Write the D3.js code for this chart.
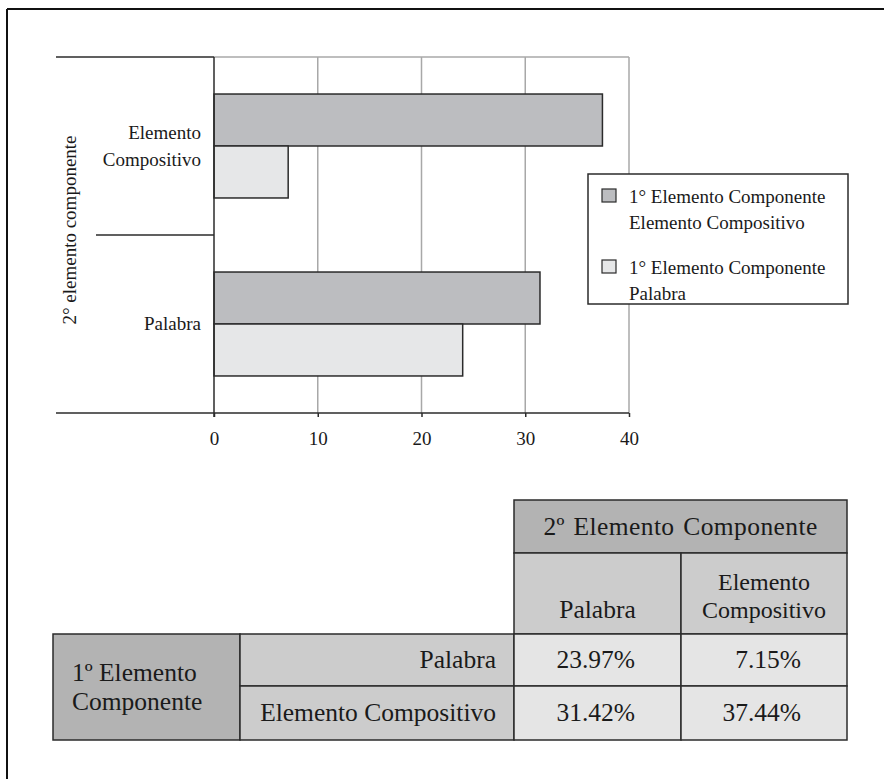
<!DOCTYPE html>
<html>
<head>
<meta charset="utf-8">
<script src="https://cdn.jsdelivr.net/npm/d3@7"></script>
<style>
    body { margin: 0; background: #fff; }
    svg text { font-family: "Liberation Serif", "DejaVu Serif", serif; fill: #1a1a1a; }
</style>
</head>
<body>
<div id="content"></div>
<script>
// 2nd element categories (top to bottom in the chart)
const categories = ['Elemento Compositivo', 'Palabra'];
const categoryLines = [['Elemento', 'Compositivo'], ['Palabra']];
// 1st element = Elemento Compositivo, by category
const compositivoValues = [37.44, 31.42];
// 1st element = Palabra, by category
const palabraValues = [7.15, 23.97];
const seriesNames = [
    ['1° Elemento Componente', 'Elemento Compositivo'],
    ['1° Elemento Componente', 'Palabra']
];
const xTicks = [0, 10, 20, 30, 40];
const yTitle = '2° elemento componente';

// table texts
const tableHeader = '2º Elemento Componente';
const tableCols = [['Palabra'], ['Elemento', 'Compositivo']];
const tableRowTitle = ['1º Elemento', 'Componente'];
const tableRows = ['Palabra', 'Elemento Compositivo'];

const config = {
    darkFill: '#bcbdc0',
    lightFill: '#e6e7e8',
    stroke: '#2b2b2b',
    grid: '#a8a8a8'
};

const svg = d3.select('#content').append('svg')
    .attr('width', 884)
    .attr('height', 779);

// frame (only top and left edges are visible)
svg.append('line').attr('x1', 7).attr('x2', 884).attr('y1', 9).attr('y2', 9)
    .attr('stroke', '#111').attr('stroke-width', 2);
svg.append('line').attr('x1', 7).attr('x2', 7).attr('y1', 9).attr('y2', 779)
    .attr('stroke', '#111').attr('stroke-width', 2);

const x = d3.scaleLinear().domain([0, 40]).range([214, 629]);
const y = d3.scaleBand().domain(categories).range([57, 413])
    .paddingInner(0.416).paddingOuter(0.208);

// grid
svg.append('g').selectAll('line.grid').data(xTicks.slice(1)).enter().append('line')
    .attr('x1', d => x(d)).attr('x2', d => x(d))
    .attr('y1', 57).attr('y2', 413)
    .attr('stroke', config.grid).attr('stroke-width', 1.5);
svg.append('line').attr('x1', x(0)).attr('x2', x(40)).attr('y1', 57).attr('y2', 57)
    .attr('stroke', config.grid).attr('stroke-width', 1.5);

// category frame lines
svg.append('line').attr('x1', 56).attr('x2', x(0)).attr('y1', 57).attr('y2', 57)
    .attr('stroke', config.stroke).attr('stroke-width', 1.5);
svg.append('line').attr('x1', 96).attr('x2', x(0)).attr('y1', 235).attr('y2', 235)
    .attr('stroke', config.stroke).attr('stroke-width', 1.5);

// bars
const half = y.bandwidth() / 2;
const bars = svg.append('g');
bars.selectAll('rect.dark').data(categories).enter().append('rect')
    .attr('x', x(0))
    .attr('y', d => y(d))
    .attr('width', (d, i) => x(compositivoValues[i]) - x(0))
    .attr('height', half)
    .attr('fill', config.darkFill)
    .attr('stroke', config.stroke).attr('stroke-width', 1.5);
bars.selectAll('rect.light').data(categories).enter().append('rect')
    .attr('x', x(0))
    .attr('y', d => y(d) + half)
    .attr('width', (d, i) => x(palabraValues[i]) - x(0))
    .attr('height', half)
    .attr('fill', config.lightFill)
    .attr('stroke', config.stroke).attr('stroke-width', 1.5);

// x axis
const axis = svg.append('g')
    .attr('transform', 'translate(0,413)')
    .call(d3.axisBottom(x).tickValues(xTicks).tickSize(4).tickPadding(15).tickSizeOuter(0));
axis.select('.domain').remove();
axis.selectAll('.tick line').attr('stroke', config.stroke).attr('stroke-width', 1.5);
axis.selectAll('.tick text')
    .style('font-family', '"Liberation Serif", serif')
    .style('font-size', '19px')
    .attr('fill', '#1a1a1a');
svg.append('line').attr('x1', 56).attr('x2', x(40)).attr('y1', 413).attr('y2', 413)
    .attr('stroke', config.stroke).attr('stroke-width', 1.5);
svg.append('line').attr('x1', x(0)).attr('x2', x(0)).attr('y1', 57).attr('y2', 417)
    .attr('stroke', config.stroke).attr('stroke-width', 1.5);

// category labels
categories.forEach((c, i) => {
    const lines = categoryLines[i];
    const cy = y(c) + y.bandwidth() / 2;
    lines.forEach((t, j) => {
        svg.append('text')
            .attr('x', 201)
            .attr('y', cy + 6 + (j - (lines.length - 1) / 2) * 27)
            .attr('text-anchor', 'end')
            .style('font-size', '19px')
            .text(t);
    });
});

// y title
svg.append('text')
    .attr('transform', 'translate(76,230) rotate(-90)')
    .attr('text-anchor', 'middle')
    .style('font-size', '19px')
    .text(yTitle);

// legend
const legend = svg.append('g');
legend.append('rect')
    .attr('x', 588).attr('y', 174).attr('width', 260).attr('height', 130)
    .attr('fill', '#fff').attr('stroke', config.stroke).attr('stroke-width', 1.5);
[config.darkFill, config.lightFill].forEach((fill, i) => {
    const top = 189 + i * 71;
    legend.append('rect')
        .attr('x', 602).attr('y', top).attr('width', 14).attr('height', 13)
        .attr('fill', fill).attr('stroke', config.stroke).attr('stroke-width', 1.2);
    seriesNames[i].forEach((t, j) => {
        legend.append('text')
            .attr('x', 629).attr('y', top + 14 + j * 26)
            .style('font-size', '19px')
            .text(t);
    });
});

// table
const table = svg.append('g');
const cell = (x0, y0, w, h, fill) => table.append('rect')
    .attr('x', x0).attr('y', y0).attr('width', w).attr('height', h)
    .attr('fill', fill).attr('stroke', config.stroke).attr('stroke-width', 1.5);
const label = (tx, ty, t, anchor) => table.append('text')
    .attr('x', tx).attr('y', ty)
    .attr('text-anchor', anchor)
    .style('font-size', '25.5px')
    .text(t);

const colX = [514, 681, 847];
const rowY = [634, 686, 740];

cell(514, 500, 333, 53, '#b3b3b3');
label(680.5, 535, tableHeader, 'middle').style('letter-spacing', '0.4px').style('word-spacing', '2px');

tableCols.forEach((lines, i) => {
    cell(colX[i], 553, colX[i + 1] - colX[i], 81, '#cccccc');
    const cx = (colX[i] + colX[i + 1]) / 2;
    lines.forEach((t, j) => {
        label(cx, 618 - (lines.length - 1 - j) * 28, t, 'middle')
            .style('font-size', lines.length > 1 ? '24px' : '25.5px');
    });
});

cell(53, 634, 187, 106, '#b3b3b3');
tableRowTitle.forEach((t, j) => label(72, 681 + j * 29, t, 'start'));

const tableValues = [
    [palabraValues[1], palabraValues[0]],
    [compositivoValues[1], compositivoValues[0]]
];
tableRows.forEach((r, i) => {
    cell(240, rowY[i], 274, rowY[i + 1] - rowY[i], '#cccccc');
    label(496, (rowY[i] + rowY[i + 1]) / 2 + 8, r, 'end');
    tableValues[i].forEach((v, k) => {
        cell(colX[k], rowY[i], colX[k + 1] - colX[k], rowY[i + 1] - rowY[i], '#e5e5e5');
        label(colX[k + 1] - 46, (rowY[i] + rowY[i + 1]) / 2 + 8, d3.format('.2f')(v) + '%', 'end');
    });
});
</script>
</body>
</html>
